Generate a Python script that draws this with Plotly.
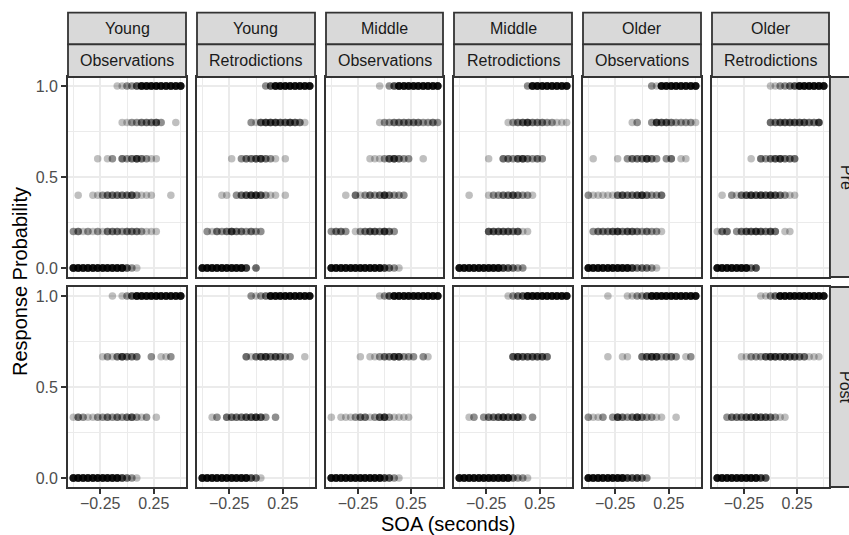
import plotly.graph_objects as go

# SOA levels (seconds) shared by every panel
SOA_LEVELS = [-0.5, -0.455, -0.409, -0.364, -0.318, -0.273, -0.227, -0.182,
              -0.136, -0.091, -0.045, 0.0, 0.045, 0.091, 0.136, 0.182,
              0.227, 0.273, 0.318, 0.364, 0.409, 0.455, 0.5]

# response-probability levels (top to bottom) for each session
PRE_LEVELS = [1.0, 0.8, 0.6, 0.4, 0.2, 0.0]
POST_LEVELS = [1.0, 0.6667, 0.3333, 0.0]

AGE_GROUPS = ["Young", "Young", "Middle", "Middle", "Older", "Older"]
SOURCES = ["Observations", "Retrodictions"] * 3
SESSIONS = ["Pre", "Post"]

# number of participants at each SOA level (one digit per level), one string per response level
young_obs_pre = ["00000000011224999999999",
                 "00000000001122333420010",
                 "00000101203235321100000",
                 "01001123333342111000100",
                 "23121213332333211100000",
                 "99999999999421000000000"]
young_retro_pre = ["00000000000002499999999",
                   "00000000002145554454310",
                   "00000010233453210100000",
                   "00001102345542110100000",
                   "02132353323220000000000",
                   "99999999950300000000000"]
middle_obs_pre = ["00000000001024999999999",
                  "00000000001223333332232",
                  "00000000111245322001000",
                  "00010312323532220000000",
                  "23320123443532000000000",
                  "99999999999532100000000"]
middle_retro_pre = ["00000000000000299999999",
                    "00000000001234533322111",
                    "00000010033245323200000",
                    "00100012233432210000000",
                    "00000044444341100000000",
                    "99999999954322000000000"]
older_obs_pre = ["00000000000002199999999",
                 "00000000012002544322221",
                 "01000010233353202301100",
                 "21111134334532230000000",
                 "02333453443232210000000",
                 "99999999953332100000000"]
older_retro_pre = ["00000000000112234999999",
                   "00000000000334444443350",
                   "00000001032345333000000",
                   "01021345454543211000000",
                   "13302344543430110000000",
                   "99999993400000000000000"]

young_obs_post = ["00000000101249999999999",
                  "00000012135333002011200",
                  "13211223232342120100000",
                  "99999999995321000000000"]
young_retro_post = ["00000000002123999999999",
                    "00000000031345343220010",
                    "00120333344542020000000",
                    "99999999994310000000000"]
middle_obs_post = ["00000000001249999999999",
                   "00000010112335522202100",
                   "10111233124521111000000",
                   "99999999999542100000000"]
middle_retro_post = ["00000000001234999999999",
                     "00000000000454444430000",
                     "00120233454452020000000",
                     "99999999999322100000000"]
older_obs_post = ["00001000112249999999999",
                  "00001001100345523320120",
                  "21120253235322110010000",
                  "99999999545320000000000"]
older_retro_post = ["00000000011239999999999",
                    "00000112224554544331110",
                    "00233344544321100000000",
                    "99999999954000000000000"]

PANELS = [
    [young_obs_pre, young_retro_pre, middle_obs_pre,
     middle_retro_pre, older_obs_pre, older_retro_pre],
    [young_obs_post, young_retro_post, middle_obs_post,
     middle_retro_post, older_obs_post, older_retro_post],
]
LEVELS = [PRE_LEVELS, POST_LEVELS]

# page geometry in pixels
W, H = 849, 535
COL_EDGES = [(68, 186), (197, 315), (326, 443), (454, 572), (583, 701), (712, 829)]
ROW_EDGES = [(77, 277), (287, 487)]
STRIP_TOP = [(12.7, 44.3), (44.3, 77)]
STRIP_RIGHT_X = 830

FONT = "Liberation Sans, Arial, sans-serif"
BORDER = "#333333"
GRID = "#EBEBEB"
STRIP_FILL = "#D9D9D9"


def px_x(p):
    return p / W


def px_y(p):
    return 1 - p / H


fig = go.Figure()
layout = {}

for r in range(2):
    for c in range(6):
        k = r * 6 + c + 1
        suffix = "" if k == 1 else str(k)
        xs, ys = [], []
        for level, counts in zip(LEVELS[r], PANELS[r][c]):
            for soa, ch in zip(SOA_LEVELS, counts):
                n = int(ch)
                xs.extend([soa] * n)
                ys.extend([level] * n)
        fig.add_trace(go.Scatter(
            x=xs, y=ys, mode="markers",
            marker=dict(color="black", size=7.5, opacity=0.25, line=dict(width=0)),
            xaxis="x" + suffix, yaxis="y" + suffix,
            showlegend=False, hoverinfo="skip",
        ))

        x0, x1 = COL_EDGES[c]
        y0, y1 = ROW_EDGES[r]
        bottom = r == 1
        left = c == 0
        layout["xaxis" + suffix] = dict(
            domain=[px_x(x0), px_x(x1)], anchor="y" + suffix,
            range=[-0.55, 0.55], tickvals=[-0.25, 0.25],
            ticktext=["\u22120.25", "0.25"],
            showticklabels=bottom, ticks="outside" if bottom else "",
            ticklen=5, tickwidth=1.8, tickcolor=BORDER, ticklabelstandoff=-4,
            tickfont=dict(size=16, color="#4D4D4D", family=FONT),
            showgrid=True, gridcolor=GRID, gridwidth=2,
            minor=dict(tickvals=[-0.5, 0.0, 0.5], showgrid=True,
                       gridcolor=GRID, gridwidth=1),
            zeroline=False, showline=True, mirror=True,
            linecolor=BORDER, linewidth=1.8, fixedrange=True,
        )
        layout["yaxis" + suffix] = dict(
            domain=[px_y(y1), px_y(y0)], anchor="x" + suffix,
            range=[-0.05, 1.05], tickvals=[0.0, 0.5, 1.0],
            ticktext=["0.0", "0.5", "1.0"],
            showticklabels=left, ticks="outside" if left else "",
            ticklen=5, tickwidth=1.8, tickcolor=BORDER,
            tickfont=dict(size=16, color="#4D4D4D", family=FONT),
            showgrid=True, gridcolor=GRID, gridwidth=2,
            minor=dict(tickvals=[0.25, 0.75], showgrid=True,
                       gridcolor=GRID, gridwidth=1),
            zeroline=False, showline=True, mirror=True,
            linecolor=BORDER, linewidth=1.8, fixedrange=True,
        )

shapes = []
annotations = []

# column strips: age group on top, data source below
for c, (x0, x1) in enumerate(COL_EDGES):
    for s, (sy0, sy1) in enumerate(STRIP_TOP):
        shapes.append(dict(type="rect", xref="paper", yref="paper",
                           x0=px_x(x0), x1=px_x(x1), y0=px_y(sy1), y1=px_y(sy0),
                           fillcolor=STRIP_FILL, line=dict(color=BORDER, width=1.8),
                           layer="above"))
        label = AGE_GROUPS[c] if s == 0 else SOURCES[c]
        annotations.append(dict(text=label, xref="paper", yref="paper",
                                x=px_x((x0 + x1) / 2), y=px_y((sy0 + sy1) / 2),
                                xanchor="center", yanchor="middle", showarrow=False,
                                font=dict(size=16, color="#1A1A1A", family=FONT)))

# row strips on the right: session
for r, (y0, y1) in enumerate(ROW_EDGES):
    shapes.append(dict(type="rect", xref="paper", yref="paper",
                       x0=px_x(STRIP_RIGHT_X), x1=px_x(STRIP_RIGHT_X + 34),
                       y0=px_y(y1), y1=px_y(y0),
                       fillcolor=STRIP_FILL, line=dict(color=BORDER, width=1.8),
                       layer="above"))
    annotations.append(dict(text=SESSIONS[r], xref="paper", yref="paper",
                            x=px_x(STRIP_RIGHT_X + 16), y=px_y((y0 + y1) / 2),
                            xanchor="center", yanchor="middle", showarrow=False,
                            textangle=90,
                            font=dict(size=16, color="#1A1A1A", family=FONT)))

# axis titles
annotations.append(dict(text="SOA (seconds)", xref="paper", yref="paper",
                        x=px_x((COL_EDGES[0][0] + COL_EDGES[-1][1]) / 2), y=px_y(524),
                        xanchor="center", yanchor="middle", showarrow=False,
                        font=dict(size=20, color="black", family=FONT)))
annotations.append(dict(text="Response Probability", xref="paper", yref="paper",
                        x=px_x(20), y=px_y((ROW_EDGES[0][0] + ROW_EDGES[1][1]) / 2),
                        xanchor="center", yanchor="middle", showarrow=False,
                        textangle=-90,
                        font=dict(size=20, color="black", family=FONT)))

fig.update_layout(
    width=W, height=H,
    margin=dict(l=0, r=0, t=0, b=0),
    paper_bgcolor="white", plot_bgcolor="white",
    font=dict(family=FONT),
    shapes=shapes, annotations=annotations,
    **layout,
)

fig.write_html("out.html")
